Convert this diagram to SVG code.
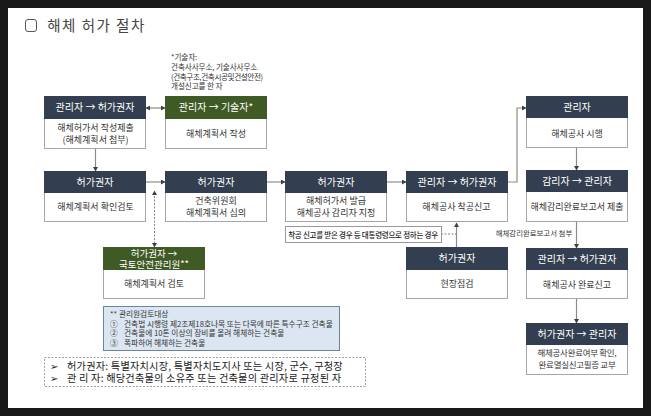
<svg xmlns="http://www.w3.org/2000/svg" width="651" height="416" viewBox="0 0 651 416">
<style>
text{font-family:"Noto Sans CJK KR","Noto Sans",sans-serif;text-anchor:middle}
.b{fill:#fff;stroke:#a6a6a6;stroke-width:1}
.h{fill:#333f50}.g{fill:#3f5a24}
.ht{fill:#fff;font-size:10px;font-weight:400}
.bt{fill:#333;font-size:9px}
.s{font-size:7.600px;fill:#333;text-anchor:start;letter-spacing:-.1px}
.n{font-size:7.700px;fill:#333;text-anchor:start}
.l{font-size:10.200px;fill:#222;text-anchor:start}
.c{fill:none;stroke:#8c8c8c;stroke-width:1.200}
.k{fill:none;stroke:#666;stroke-width:.8;stroke-dasharray:2 1.5}
</style>
<defs><marker id="a" markerWidth="5" markerHeight="5" refX="4" refY="2.500" orient="auto-start-reverse" markerUnits="userSpaceOnUse"><path d="M0 0L4.500 2.500L0 5Z" fill="#404040"/></marker></defs>
<rect width="651" height="416" fill="#181818"/>
<rect x="8" y="8" width="635" height="400" fill="#fff"/>
<g id="title"><rect x="25.500" y="19.500" width="11" height="12" rx="2.500" fill="#fff" stroke="#555" stroke-width="1"/><text x="96.500" y="31" style="font-size:14.500px;letter-spacing:1.500px;fill:#444">해체 허가 절차</text></g>
<g id="connectors">
<path class="c" d="M146 108H165" marker-start="url(#a)" marker-end="url(#a)"/>
<path class="c" d="M95.500 148V171" marker-end="url(#a)"/>
<path class="c" d="M146 182H165" marker-end="url(#a)"/>
<path class="c" d="M266 182H285" marker-end="url(#a)"/>
<path class="c" d="M386 182H406" marker-end="url(#a)"/>
<path class="c" d="M507 182H517V108H526" marker-end="url(#a)"/>
<path class="c" d="M576.500 148V170" marker-end="url(#a)"/>
<path class="c" d="M576.500 222V248" marker-end="url(#a)"/>
<path class="c" d="M576.500 299V323" marker-end="url(#a)"/>
<path class="c" d="M456.500 247V223" marker-end="url(#a)"/>
<path class="k" d="M154.500 247V191" marker-start="url(#a)" marker-end="url(#a)"/>
<path class="k" d="M441 234H456"/>
</g>
<g id="n1"><rect class="b" x="44.500" y="96.500" width="101" height="52"/><rect class="h" x="44" y="96" width="102" height="23"/><text class="ht" x="95" y="111">관리자 → 허가권자</text><text class="bt" x="95.500" y="131">해체허가서 작성제출</text><text class="bt" x="95.500" y="143">(해체계획서 첨부)</text></g>
<g id="n2"><rect class="b" x="165.500" y="96.500" width="101" height="52"/><rect class="g" x="165" y="96" width="102" height="23"/><text class="ht" x="216" y="111">관리자 → 기술자*</text><text class="bt" x="216" y="137">해체계획서 작성</text></g>
<g id="note"><text class="s" x="171" y="60">*기술자:</text><text class="s" x="171" y="70">건축사사무소, 기술사사무소</text><text class="s" x="171" y="80" style="letter-spacing:-.4px">(건축구조,건축시공및건설안전)</text><text class="s" x="171" y="89">개설신고를 한 자</text></g>
<g id="n3"><rect class="b" x="44.500" y="171.500" width="101" height="50"/><rect class="h" x="44" y="171" width="102" height="22"/><text class="ht" x="95" y="186">허가권자</text><text class="bt" x="95.500" y="210">해체계획서 확인검토</text></g>
<g id="n4"><rect class="b" x="165.500" y="171.500" width="101" height="50"/><rect class="h" x="165" y="171" width="102" height="22"/><text class="ht" x="216" y="186">허가권자</text><text class="bt" x="216" y="204">건축위원회</text><text class="bt" x="216" y="216">해체계획서 심의</text></g>
<g id="n5"><rect class="b" x="285.500" y="171.500" width="101" height="50"/><rect class="h" x="285" y="171" width="102" height="22"/><text class="ht" x="336" y="186">허가권자</text><text class="bt" x="336" y="204">해체허가서 발급</text><text class="bt" x="336" y="216">해체공사 감리자 지정</text></g>
<g id="n6"><rect class="b" x="406.500" y="171.500" width="101" height="50"/><rect class="h" x="406" y="171" width="102" height="22"/><text class="ht" x="457" y="186">관리자 → 허가권자</text><text class="bt" x="456.500" y="210">해체공사 착공신고</text></g>
<g id="n7"><rect class="b" x="526.500" y="96.500" width="101" height="51"/><rect class="h" x="526" y="96" width="102" height="22"/><text class="ht" x="577" y="111">관리자</text><text class="bt" x="577" y="137">해체공사 시행</text></g>
<g id="n8"><rect class="b" x="526.500" y="170.500" width="101" height="51"/><rect class="h" x="526" y="170" width="102" height="22"/><text class="ht" x="577" y="185">감리자 → 관리자</text><text class="bt" x="577" y="210">해체감리완료보고서 제출</text></g>
<g id="n9"><rect class="b" x="103.500" y="247.500" width="101" height="51"/><rect class="g" x="103" y="247" width="102" height="23"/><text class="ht" style="font-size:9.500px"><tspan x="154" y="256.500">허가권자 →</tspan><tspan x="154" y="267.500">국토안전관리원**</tspan></text><text class="bt" x="154" y="287">해체계획서 검토</text></g>
<g id="n10"><rect class="b" x="406.500" y="247.500" width="101" height="51"/><rect class="h" x="406" y="247" width="102" height="23"/><text class="ht" x="457" y="262">허가권자</text><text class="bt" x="457" y="287">현장점검</text></g>
<g id="n11"><rect class="b" x="526.500" y="248.500" width="101" height="50"/><rect class="h" x="526" y="248" width="102" height="22"/><text class="ht" x="577" y="263">관리자 → 허가권자</text><text class="bt" x="577" y="288">해체공사 완료신고</text></g>
<g id="n12"><rect class="b" x="526.500" y="323.500" width="101" height="51"/><rect class="h" x="526" y="323" width="102" height="22"/><text class="ht" x="577" y="338">허가권자 → 관리자</text><text class="bt" x="577" y="356" style="font-size:8.500px;letter-spacing:-.3px">해체공사완료여부 확인,</text><text class="bt" x="577" y="368" style="font-size:8.500px;letter-spacing:-.3px">완료멸실신고필증 교부</text></g>
<g id="callout"><rect x="285.500" y="226.500" width="156" height="16" fill="#fff" stroke="#999"/><text x="363" y="237.500" style="font-size:7.500px;font-weight:500;fill:#222;letter-spacing:-.25px">착공 신고를 받은 경우 등 대통령령으로 정하는 경우</text></g>
<text id="edge-label" x="534" y="236" style="font-size:7.400px;fill:#333">해체감리완료보고서 첨부</text>
<g id="review"><rect x="103.500" y="306.500" width="236" height="44" fill="#dce6f2" stroke="#6f8399"/><text class="n" x="110" y="317">** 관리원검토대상</text><text class="n" x="110" y="326.500">①</text><text class="n" x="124" y="326.500">건축법 시행령 제2조제18호나목 또는 다목에 따른 특수구조 건축물</text><text class="n" x="110" y="336">②</text><text class="n" x="124" y="336">건축물에 10톤 이상의 장비를 올려 해체하는 건축물</text><text class="n" x="110" y="345.500">③</text><text class="n" x="124" y="345.500">폭파하여 해체하는 건축물</text></g>
<g id="legend"><rect x="44.500" y="357.500" width="321" height="29" fill="none" stroke="#888" stroke-width=".8" stroke-dasharray="2 1.500"/><text class="l"><tspan x="50" y="370">➢</tspan><tspan x="67" y="370" style="letter-spacing:.2px">허가권자: 특별자치시장, 특별자치도지사 또는 시장, 군수, 구청장</tspan><tspan x="50" y="382">➢</tspan><tspan x="67" y="382" style="letter-spacing:.2px">관 리 자: 해당건축물의 소유주 또는 건축물의 관리자로 규정된 자</tspan></text></g>
</svg>
